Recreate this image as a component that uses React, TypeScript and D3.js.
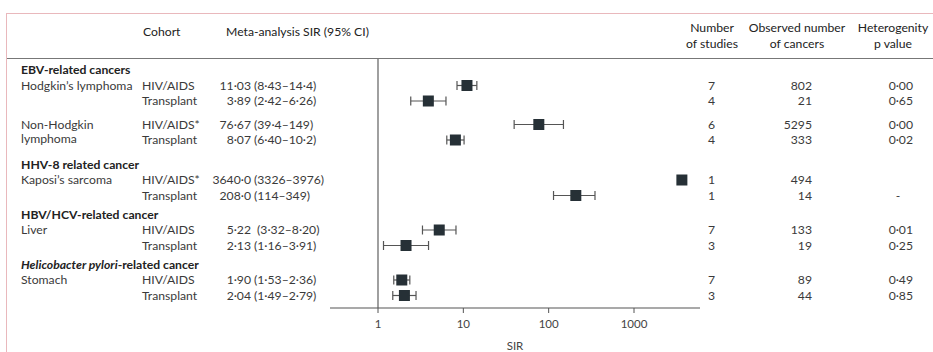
import React from "react";
import * as d3 from "d3";

// ---------- data ----------
const groupTitles = [
  "EBV-related cancers",
  "HHV-8 related cancer",
  "HBV/HCV-related cancer",
  "Helicobacter pylori-related cancer",
];
const cancers = [["Hodgkin’s lymphoma"], ["Non-Hodgkin", "lymphoma"], ["Kaposi’s sarcoma"], ["Liver"], ["Stomach"]];
const cancerGroup = [0, 0, 1, 2, 3];
const cohorts = ["HIV/AIDS", "Transplant", "HIV/AIDS*", "Transplant", "HIV/AIDS*", "Transplant", "HIV/AIDS", "Transplant", "HIV/AIDS", "Transplant"];
const sir = [11.03, 3.89, 76.67, 8.07, 3640.0, 208.0, 5.22, 2.13, 1.9, 2.04];
const ciLow = [8.43, 2.42, 39.4, 6.4, 3326, 114, 3.32, 1.16, 1.53, 1.49];
const ciHigh = [14.4, 6.26, 149, 10.2, 3976, 349, 8.2, 3.91, 2.36, 2.79];
const sirLabels = ["11·03", "3·89", "76·67", "8·07", "3640·0", "208·0", "5·22", "2·13", "1·90", "2·04"];
const ciLabels = ["(8·43–14·4)", "(2·42–6·26)", "(39·4–149)", "(6·40–10·2)", "(3326–3976)", "(114–349)", " (3·32–8·20)", "(1·16–3·91)", "(1·53–2·36)", "(1·49–2·79)"];
const nStudies = ["7", "4", "6", "4", "1", "1", "7", "3", "7", "3"];
const observed = ["802", "21", "5295", "333", "494", "14", "133", "19", "89", "44"];
const pValues = ["0·00", "0·65", "0·00", "0·02", "", "-", "0·01", "0·25", "0·49", "0·85"];
const xTicks = [1, 10, 100, 1000];

// ---------- layout ----------
const W = 933;
const H = 352;
const FONT = "Lato, 'Open Sans', sans-serif";
const TEXT = "#3a3a3a";
const FS = 12.2;
const x = d3.scaleLog().domain([1, 1000]).range([378, 634]);

type Item = { kind: "header"; g: number; y: number } | { kind: "row"; i: number; c: number; first: boolean; y: number };
function buildLayout(): Item[] {
  const items: Item[] = [];
  let y = 70;
  let rowIdx = 0;
  let prevKind = "";
  let prevCancerLines = 1;
  groupTitles.forEach((_, g) => {
    if (g > 0) y += prevCancerLines > 1 ? 24.5 : 19;
    items.push({ kind: "header", g, y });
    prevKind = "header";
    cancers.forEach((lines, c) => {
      if (cancerGroup[c] !== g) return;
      for (let k = 0; k < 2; k++) {
        if (prevKind === "header") y += 15.5;
        else if (k === 0) y += 23.5;
        else y += 15.5;
        items.push({ kind: "row", i: rowIdx, c, first: k === 0, y });
        rowIdx++;
        prevKind = "row";
      }
      prevCancerLines = lines.length;
    });
  });
  return items;
}

export default function App() {
  const items = buildLayout();
  const axisY = 308;
  const sq = 11;
  return (
    <svg
      width={W}
      height={H}
      style={{ position: "absolute", left: 0, top: 0, background: "#fff" }}
      fontFamily={FONT}
    >
      {/* frame */}
      <line x1={6.5} x2={6.5} y1={13} y2={H} stroke="#e9b8bc" strokeWidth={1} />
      <line x1={6} x2={W} y1={13.5} y2={13.5} stroke="#e9b8bc" strokeWidth={1} />
      {/* header */}
      <g fontSize={FS} fill="#222">
        <text x={143} y={36}>Cohort</text>
        <text x={226} y={36}>Meta-analysis SIR (95% CI)</text>
        <text x={712} y={32} textAnchor="middle">Number</text>
        <text x={712} y={48} textAnchor="middle">of studies</text>
        <text x={797} y={32} textAnchor="middle">Observed number</text>
        <text x={797} y={48} textAnchor="middle">of cancers</text>
        <text x={893} y={32} textAnchor="middle">Heterogenity</text>
        <text x={893} y={48} textAnchor="middle">p value</text>
      </g>
      <line x1={7} x2={W} y1={58.5} y2={58.5} stroke="#777" strokeWidth={1.2} />
      {/* reference line at SIR = 1 */}
      <line x1={x(1)} x2={x(1)} y1={58} y2={axisY} stroke="#777" strokeWidth={1.4} />

      {items.map((it, k) => {
        if (it.kind === "header") {
          const t = groupTitles[it.g];
          const italic = t.startsWith("Helicobacter pylori");
          return (
            <text key={k} x={21} y={it.y + 4} fontSize={FS} fontWeight="bold" fill="#222">
              {italic ? (
                <>
                  <tspan fontStyle="italic">Helicobacter pylori</tspan>
                  {t.slice("Helicobacter pylori".length)}
                </>
              ) : (
                t
              )}
            </text>
          );
        }
        const i = it.i;
        const yy = it.y;
        return (
          <g key={k} fontSize={FS} fill={TEXT}>
            {it.first &&
              cancers[it.c].map((ln, j) => (
                <text key={j} x={21} y={yy + 4 + j * 14}>
                  {ln}
                </text>
              ))}
            <text x={142} y={yy + 4}>{cohorts[i]}</text>
            <text x={251} y={yy + 4} textAnchor="end">{sirLabels[i]}</text>
            <text x={254} y={yy + 4} style={{ whiteSpace: "pre" }}>{ciLabels[i]}</text>
            <text x={715} y={yy + 4} textAnchor="end">{nStudies[i]}</text>
            <text x={812} y={yy + 4} textAnchor="end">{observed[i]}</text>
            <text x={pValues[i] === "-" ? 898 : 913} y={yy + 4} textAnchor={pValues[i] === "-" ? "middle" : "end"}>
              {pValues[i]}
            </text>
            {/* CI whisker */}
            <g stroke="#555" strokeWidth={1.2}>
              <line x1={x(ciLow[i])} x2={x(ciHigh[i])} y1={yy} y2={yy} />
              <line x1={x(ciLow[i])} x2={x(ciLow[i])} y1={yy - 4.5} y2={yy + 4.5} />
              <line x1={x(ciHigh[i])} x2={x(ciHigh[i])} y1={yy - 4.5} y2={yy + 4.5} />
            </g>
            <rect x={x(sir[i]) - sq / 2} y={yy - sq / 2} width={sq} height={sq} fill="#263036" />
          </g>
        );
      })}

      {/* x axis */}
      <line x1={330} x2={700} y1={axisY} y2={axisY} stroke="#555" strokeWidth={1.2} />
      {xTicks.map((t) => (
        <g key={t}>
          <line x1={x(t)} x2={x(t)} y1={axisY} y2={axisY + 5} stroke="#555" strokeWidth={1} />
          <text x={x(t)} y={axisY + 20} textAnchor="middle" fontSize={11.5} fill="#444">
            {t}
          </text>
        </g>
      ))}
      <text x={515} y={350} textAnchor="middle" fontSize={11.5} fill="#444">SIR</text>
    </svg>
  );
}
